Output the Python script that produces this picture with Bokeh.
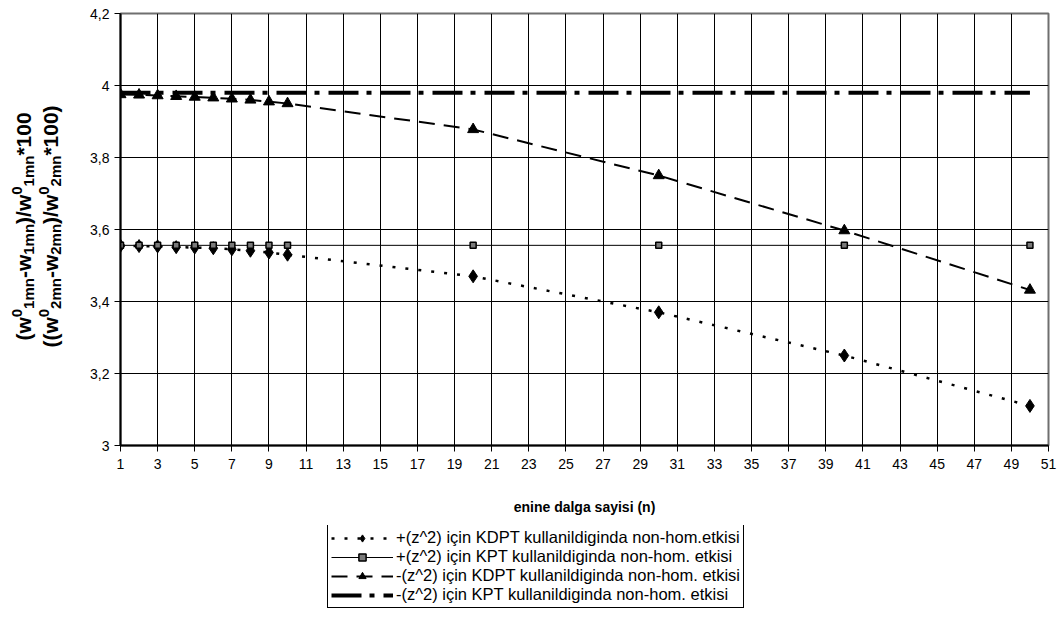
import math
from bokeh.plotting import figure
from bokeh.layouts import column, row
from bokeh.models import Range1d, FixedTicker, Legend, LegendItem, Label
from bokeh.embed import file_html
from bokeh.resources import INLINE

# ---------------- data ----------------
n_values = [1, 2, 3, 4, 5, 6, 7, 8, 9, 10, 20, 30, 40, 50]
kdpt_plus = [3.555, 3.554, 3.553, 3.551, 3.550, 3.548, 3.545, 3.541, 3.536, 3.530, 3.470, 3.370, 3.250, 3.110]
kpt_plus = [3.556, 3.556, 3.556, 3.556, 3.556, 3.556, 3.556, 3.556, 3.556, 3.556, 3.556, 3.556, 3.556, 3.556]
kdpt_minus = [3.975, 3.974, 3.972, 3.970, 3.968, 3.966, 3.963, 3.960, 3.955, 3.950, 3.878, 3.750, 3.597, 3.432]
kpt_minus = [3.980, 3.980, 3.980, 3.980, 3.980, 3.980, 3.980, 3.980, 3.980, 3.980, 3.980, 3.980, 3.980, 3.980]
series_labels = [
    "+(z^2) için KDPT kullanildiginda non-hom.etkisi",
    "+(z^2) için KPT kullanildiginda non-hom. etkisi",
    "-(z^2) için KDPT kullanildiginda non-hom. etkisi",
    "-(z^2) için KPT kullanildiginda non-hom. etkisi",
]
x_ticks = [1, 3, 5, 7, 9, 11, 13, 15, 17, 19, 21, 23, 25, 27, 29, 31, 33, 35, 37, 39, 41, 43, 45, 47, 49, 51]
y_ticks = [3.0, 3.2, 3.4, 3.6, 3.8, 4.0, 4.2]
y_tick_labels = ["3", "3,2", "3,4", "3,6", "3,8", "4", "4,2"]
x_title = "enine dalga sayisi (n)"
y_title_line1 = [("(w", "n"), ("0", "sup"), ("1mn", "sub"), ("-w", "n"), ("1mn", "sub"),
                 (")/w", "n"), ("0", "sup"), ("1mn", "sub"), ("*100", "n")]
y_title_line2 = [("((w", "n"), ("0", "sup"), ("2mn", "sub"), ("-w", "n"), ("2mn", "sub"),
                 (")/w", "n"), ("0", "sup"), ("2mn", "sub"), ("*100)", "n")]

FONT = "Liberation Sans"
W, H = 1063, 621
TW = 72                 # width of the strip holding the y title
TOP_H = 525             # height of the chart row
FL, FR, FT, FB = 120 - TW, 15, 13, 80

# ---------------- main chart ----------------
p = figure(width=W - TW, height=TOP_H, output_backend="svg", toolbar_location=None,
           x_range=Range1d(1, 51), y_range=Range1d(3, 4.2),
           min_border_left=FL, min_border_right=FR, min_border_top=FT, min_border_bottom=FB)
p.background_fill_color = "white"
p.border_fill_color = "white"
p.outline_line_color = "#6f6f6f"
p.outline_line_width = 2

p.xaxis.ticker = FixedTicker(ticks=x_ticks)
p.yaxis.ticker = FixedTicker(ticks=y_ticks)
p.yaxis.major_label_overrides = {t: l for t, l in zip(y_ticks, y_tick_labels)}
for ax in (p.xaxis[0], p.yaxis[0]):
    ax.axis_line_color = "black"
    ax.axis_line_width = 2
    ax.major_tick_line_color = "black"
    ax.major_tick_line_width = 1
    ax.major_tick_in = 0
    ax.major_tick_out = 6
    ax.minor_tick_line_color = None
    ax.major_label_text_font = FONT
    ax.major_label_text_font_size = "14px"
    ax.major_label_text_color = "black"
p.xaxis.major_label_standoff = 7
p.yaxis.major_label_standoff = 5
p.xaxis.axis_label = x_title
p.xaxis.axis_label_text_font = FONT
p.xaxis.axis_label_text_font_size = "14px"
p.xaxis.axis_label_text_font_style = "bold"
p.xaxis.axis_label_text_color = "black"
p.xaxis.axis_label_standoff = 27

p.xgrid.grid_line_color = "black"
p.ygrid.grid_line_color = "black"
p.xgrid.grid_line_width = 1
p.ygrid.grid_line_width = 1

STY = [
    dict(line=dict(line_color="black", line_width=2.5, line_dash="3 10"),
         mark=dict(marker="diamond", size=13, fill_color="black", line_color="black")),
    dict(line=dict(line_color="black", line_width=1),
         mark=dict(marker="square", size=6, fill_color="#7a7a7a", line_color="black", line_width=1.5)),
    dict(line=dict(line_color="black", line_width=2, line_dash="16 9"),
         mark=dict(marker="triangle", size=11, fill_color="black", line_color="black")),
    dict(line=dict(line_color="black", line_width=4, line_dash="30 8 5 9"), mark=None),
]
series_values = [kdpt_plus, kpt_plus, kdpt_minus, kpt_minus]
for vals, st in zip(series_values, STY):
    p.line(n_values, vals, **st["line"])
    if st["mark"]:
        p.scatter(n_values, vals, **st["mark"])

# ---------------- y title strip (frame aligned with chart frame; data y = page y) ----------------
tf = figure(width=TW, height=TOP_H, output_backend="svg", toolbar_location=None,
            x_range=Range1d(0, TW), y_range=Range1d(TOP_H - FB, FT),
            x_axis_location=None, y_axis_location=None,
            min_border_left=0, min_border_right=0, min_border_top=FT, min_border_bottom=FB)
tf.grid.visible = False
tf.outline_line_color = None
tf.background_fill_color = "white"
tf.border_fill_color = "white"

WID = {'(': 333, ')': 333, 'w': 778, 'm': 889, 'n': 611, '-': 333, '/': 278, '*': 389}

def tw(s, size):
    return sum(WID.get(c, 556) for c in s) * size / 1000.0

MAIN, SMALL = 21, 15
CENTER_Y = 226

def add_title_line(pieces, main_x):
    total = sum(tw(t, MAIN if k == "n" else SMALL) for t, k in pieces)
    y0 = CENTER_Y + total / 2.0
    cum = 0.0
    for t, k in pieces:
        size = MAIN if k == "n" else SMALL
        w = tw(t, size)
        x = main_x + (-7 if k == "sup" else (5 if k == "sub" else 0))
        yc = y0 - cum - w / 2.0
        tf.add_layout(Label(x=x, y=yc, text=t, angle=math.pi / 2,
                            text_align="center", text_baseline="middle",
                            text_font=FONT, text_font_size=f"{size}px", text_font_style="bold",
                            text_color="black"))
        cum += w

add_title_line(y_title_line1, 23)
add_title_line(y_title_line2, 50)

# ---------------- legend strip ----------------
LH = H - TOP_H
lf = figure(width=W, height=LH, output_backend="svg", toolbar_location=None,
            x_range=Range1d(0, W), y_range=Range1d(0, LH),
            x_axis_location=None, y_axis_location=None,
            min_border_left=0, min_border_right=0, min_border_top=0, min_border_bottom=0)
lf.grid.visible = False
lf.outline_line_color = None
lf.background_fill_color = "white"
lf.border_fill_color = "white"

# legend proxies: same styles, placed outside this strip's visible range
items = []
for lab, st in zip(series_labels, STY):
    rs = [lf.line([-50, -40], [-50, -40], **st["line"])]
    if st["mark"]:
        rs.append(lf.scatter([-50], [-50], **st["mark"]))
    items.append(LegendItem(label=lab, renderers=rs))

legend = Legend(items=items, location=(327, LH - (608 - TOP_H)))
legend.label_text_font = FONT
legend.label_text_font_size = "16.5px"
legend.label_text_color = "black"
legend.glyph_width = 62
legend.glyph_height = 18
legend.label_height = 18
legend.label_standoff = 3
legend.spacing = 0
legend.padding = 3
legend.margin = 0
legend.border_line_color = "black"
legend.border_line_alpha = 1
legend.border_line_width = 1
legend.background_fill_color = "white"
legend.background_fill_alpha = 1
lf.add_layout(legend, "center")

layout = column(row(tf, p), lf)
open("out.html", "w").write(file_html(layout, INLINE))
